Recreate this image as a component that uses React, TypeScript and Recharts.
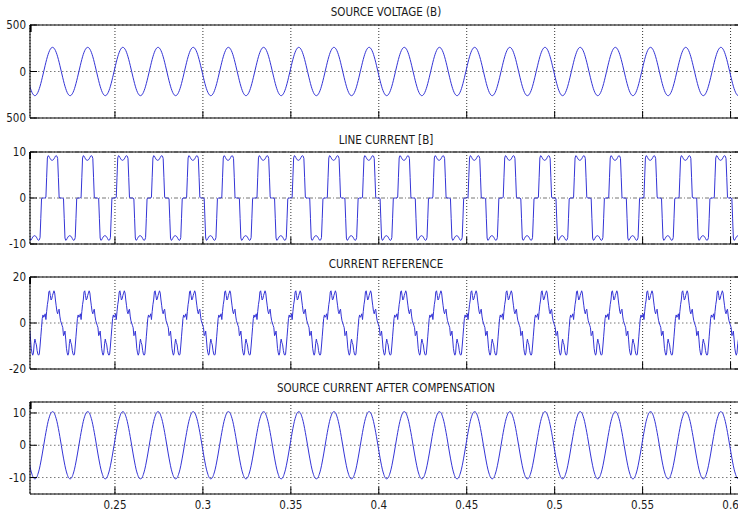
import React from 'react';
import { LineChart, Line, XAxis, YAxis, CartesianGrid } from 'recharts';

// One 50 Hz cycle of each trace, starting at the upward zero crossing of the source voltage
const voltageCycle = [
  0, 67, 130, 184, 225, 251, 260, 251, 225, 184, 130, 67,
  0, -67, -130, -184, -225, -251, -260, -251, -225, -184, -130, -67,
];

const lineCurrentCycle = [
  0, 0, 0, 0.2, 4.5, 8.7, 9.2, 9.1, 8.8, 8.5, 8.3, 8.2,
  8.2, 8.3, 8.5, 8.8, 9.1, 9.2, 9.1, 8.6, 4.5, 0.2, 0, 0,
  0, 0, 0, -0.2, -4.5, -8.7, -9.2, -9.1, -8.8, -8.5, -8.3, -8.2,
  -8.2, -8.3, -8.5, -8.8, -9.1, -9.2, -9.1, -8.6, -4.5, -0.2, 0, 0,
];

const referenceCycle = [
  2.5, 3, 4, 1.5, 5, 8, 10, 13.5, 14, 12, 10, 10.5,
  12, 13, 14, 13, 10, 7.5, 5, 4, 5.5, 6, 3, 1,
  0, -1, -2, -5.5, -5, -3.5, -7, -11, -13, -14, -13, -9,
  -7, -8.5, -9.5, -12, -13.5, -14, -13.5, -10, -6, -2, 2, 3.5,
];

const sourceCurrentCycle = [
  0, 2.7, 5.2, 7.4, 9.0, 10.1, 10.4, 10.1, 9.0, 7.4, 5.2, 2.7,
  0, -2.7, -5.2, -7.4, -9.0, -10.1, -10.4, -10.1, -9.0, -7.4, -5.2, -2.7,
];

const timeTicks = [0.25, 0.3, 0.35, 0.4, 0.45, 0.5, 0.55, 0.6];
const timeTickLabels = ['0.25', '0.3', '0.35', '0.4', '0.45', '0.5', '0.55', '0.6'];

const voltageTicks = [-500, 0, 500];
const voltageTickLabels = ['500', '0', '500'];
const lineCurrentTicks = [-10, 0, 10];
const lineCurrentTickLabels = ['-10', '0', '10'];
const referenceTicks = [-20, 0, 20];
const referenceTickLabels = ['-20', '0', '20'];
const sourceCurrentTicks = [-10, 0, 10];
const sourceCurrentTickLabels = ['-10', '0', '10'];

const PERIOD = 0.02;
const FIRST_CROSSING = 0.1895;
const CYCLES = 22;
const T_MIN = 0.2017;
const T_MAX = 0.6065;

const FONT = '"Liberation Sans Narrow", "Arial Narrow", "DejaVu Sans Condensed", Arial, sans-serif';
const BLUE = '#3434d6';
const PLOT_LEFT = 30;
const PLOT_WIDTH = 712;
const MARGIN_TOP = 10;
const MARGIN_BOTTOM = 8;

function repeatCycle(cycle: number[]) {
  const n = cycle.length;
  const rows: { t: number; v: number }[] = [];
  for (let k = 0; k < CYCLES; k++) {
    for (let i = 0; i < n; i++) {
      rows.push({ t: FIRST_CROSSING + (k * n + i) * (PERIOD / n), v: cycle[i] });
    }
  }
  return rows;
}

// keeps the tick positions (and so the grid) while drawing no label
const NoLabel = () => <g />;

type PanelProps = {
  title: string;
  titleY: number;
  plotTop: number;
  plotHeight: number;
  cycle: number[];
  domain: [number, number];
  ticks: number[];
  tickLabels: string[];
  curve: 'monotone' | 'linear';
  timeLabels?: boolean;
  hDash: string;
};

function Panel({ title, titleY, plotTop, plotHeight, cycle, domain, ticks, tickLabels, curve, timeLabels, hDash }: PanelProps) {
  const bottomHeight = timeLabels ? 22 : 4;
  const data = repeatCycle(cycle);
  const labelStyle = { fontSize: 11.5, fill: '#1a1a1a', fontFamily: FONT };
  return (
    <>
      <div
        style={{
          position: 'absolute', left: PLOT_LEFT, width: PLOT_WIDTH, top: titleY - 7, height: 14,
          lineHeight: '14px', textAlign: 'center', fontSize: 11.5, fontFamily: FONT, color: '#1a1a1a',
        }}
      >
        {title}
      </div>
      <div style={{ position: 'absolute', left: 0, top: plotTop - MARGIN_TOP }}>
        <LineChart
          width={PLOT_LEFT + PLOT_WIDTH + 8}
          height={MARGIN_TOP + plotHeight + bottomHeight + MARGIN_BOTTOM}
          data={data}
          margin={{ top: MARGIN_TOP, right: 8, bottom: MARGIN_BOTTOM, left: 0 }}
        >
          <CartesianGrid horizontal={false} stroke="#333" strokeDasharray="1 2" />
          <CartesianGrid vertical={false} stroke="#777" strokeDasharray={hDash} />
          <XAxis
            dataKey="t" type="number" domain={[T_MIN, T_MAX]} allowDataOverflow ticks={timeTicks} interval={0}
            height={bottomHeight} tickSize={-7} tickMargin={13.5}
            tick={timeLabels ? labelStyle : NoLabel}
            tickFormatter={(_v: number, i: number) => timeTickLabels[i]}
            axisLine={{ stroke: '#000' }} tickLine={{ stroke: '#000' }}
          />
          <XAxis
            xAxisId="top" orientation="top" mirror type="number" domain={[T_MIN, T_MAX]} allowDataOverflow
            ticks={timeTicks} interval={0} tick={NoLabel} tickSize={7}
            axisLine={{ stroke: '#000' }} tickLine={{ stroke: '#000' }}
          />
          <YAxis
            type="number" domain={domain} allowDataOverflow ticks={ticks} interval={0} width={PLOT_LEFT}
            tickSize={-7} tickMargin={11} tick={labelStyle}
            tickFormatter={(_v: number, i: number) => tickLabels[i]}
            axisLine={{ stroke: '#000' }} tickLine={{ stroke: '#000' }}
          />
          <YAxis
            yAxisId="right" orientation="right" mirror type="number" domain={domain} allowDataOverflow
            ticks={ticks} interval={0} tick={NoLabel} tickSize={7}
            axisLine={{ stroke: '#000' }} tickLine={{ stroke: '#000' }}
          />
          <Line dataKey="v" type={curve} stroke={BLUE} strokeWidth={1} dot={false} isAnimationActive={false} />
        </LineChart>
      </div>
    </>
  );
}

export default function App() {
  return (
    <div style={{ position: 'absolute', left: 0, top: 0, width: 738, height: 515, overflow: 'hidden', background: '#fff' }}>
      <Panel
        title="SOURCE VOLTAGE (B)" titleY={12} plotTop={25} plotHeight={93}
        cycle={voltageCycle} domain={[-500, 500]} ticks={voltageTicks} tickLabels={voltageTickLabels}
        curve="monotone" hDash="1.5 2.5"
      />
      <Panel
        title="LINE CURRENT [B]" titleY={140} plotTop={152} plotHeight={92}
        cycle={lineCurrentCycle} domain={[-10, 10]} ticks={lineCurrentTicks} tickLabels={lineCurrentTickLabels}
        curve="linear" hDash="4 2 1 2"
      />
      <Panel
        title="CURRENT REFERENCE" titleY={264} plotTop={277} plotHeight={92}
        cycle={referenceCycle} domain={[-20, 20]} ticks={referenceTicks} tickLabels={referenceTickLabels}
        curve="linear" hDash="1.5 2.5"
      />
      <Panel
        title="SOURCE CURRENT AFTER COMPENSATION" titleY={388} plotTop={402} plotHeight={92}
        cycle={sourceCurrentCycle} domain={[-15.1, 13.4]} ticks={sourceCurrentTicks} tickLabels={sourceCurrentTickLabels}
        curve="monotone" hDash="1.5 2.5" timeLabels
      />
    </div>
  );
}
